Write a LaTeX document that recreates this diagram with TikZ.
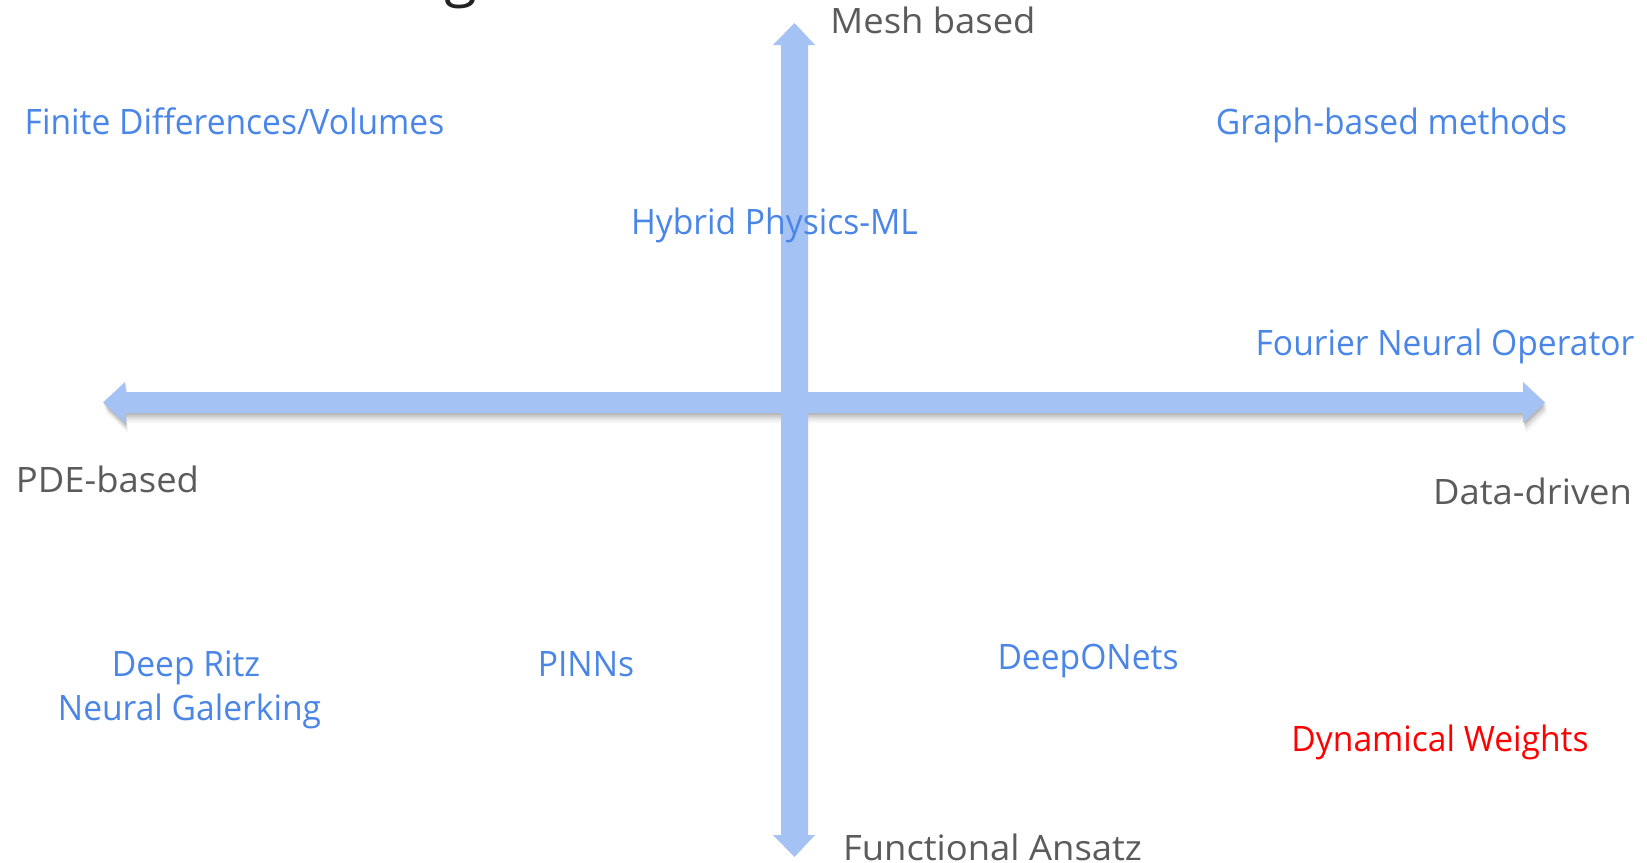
\documentclass[tikz,border=0pt]{standalone}
\usepackage{fontspec}
\setmainfont{Open Sans}
\newfontfamily\axisfont[FakeStretch=1.04]{Open Sans}
\newfontfamily\methodfont[FakeStretch=0.96]{Open Sans}
\definecolor{axisfill}{HTML}{A4C2F4}
\definecolor{axisgray}{HTML}{5B5B5B}
\definecolor{methodblue}{HTML}{4A86E8}
\definecolor{methodred}{HTML}{FF0000}
\definecolor{titleink}{HTML}{222222}
\begin{document}
\begin{tikzpicture}[x=0.5pt,y=-0.5pt,
  lbl/.style={anchor=base, inner sep=0pt},
  axislabel/.style={lbl, text=axisgray, font=\axisfont\fontsize{17.5}{21}\selectfont},
  method/.style={lbl, text=methodblue, font=\methodfont\fontsize{17.5}{21}\selectfont},
  hotmethod/.style={method, text=methodred},
  axisbody/.style={fill=axisfill, draw=none}]
\useasboundingbox (0,0) rectangle (1647,862);
\fill[white] (0,0) rectangle (1647,862);

% descender of the slide title, cut by the top edge
\node[anchor=base, inner sep=0pt, text=titleink, font=\fontsize{30}{36}\selectfont] (title) at (461,-5) {g};

% horizontal axis: soft shadow, then the double arrow
\foreach \dx/\dy/\op in {1/2/0.10, 1/4/0.08, 2/6/0.06, 2/8/0.04, 3/10/0.03} {
  \fill[black, opacity=\op, shift={(\dx,\dy)}]
    (103,402.5) -- (125,382) -- (125,392) -- (1523,392) -- (1523,382)
    -- (1545,402.5) -- (1523,423) -- (1523,413) -- (125,413) -- (125,423) -- cycle;
}
\fill[axisbody]
  (103,402.5) -- (125,382) -- (125,392) -- (1523,392) -- (1523,382)
  -- (1545,402.5) -- (1523,423) -- (1523,413) -- (125,413) -- (125,423) -- cycle;

% vertical axis: double arrow on top
\fill[axisbody]
  (794.5,23) -- (815,45) -- (808,45) -- (808,835) -- (815,835)
  -- (794.5,857) -- (773,835) -- (781,835) -- (781,45) -- (773,45) -- cycle;

% axis ends
\node[axislabel] (mesh) at (933,33) {Mesh based};
\node[axislabel] (functional) at (992.5,860) {Functional Ansatz};
\node[axislabel] (pde) at (107.5,492) {PDE-based};
\node[axislabel] (data) at (1532.5,504) {Data-driven};

% methods
\node[method] (fdv) at (234.5,134) {Finite Differences/Volumes};
\node[method] (graph) at (1391.5,134) {Graph-based methods};
\node[method] (hybrid) at (774.5,234) {Hybrid Physics-ML};
\node[method] (fno) at (1445,355) {Fourier Neural Operator};
\node[method] (ritz) at (186,676) {Deep Ritz};
\node[method] (galerkin) at (189.5,720) {Neural Galerking};
\node[method] (pinns) at (586,676) {PINNs};
\node[method] (deeponet) at (1088,669) {DeepONets};
\node[hotmethod] (dynweights) at (1440,751) {Dynamical Weights};
\end{tikzpicture}
\end{document}
